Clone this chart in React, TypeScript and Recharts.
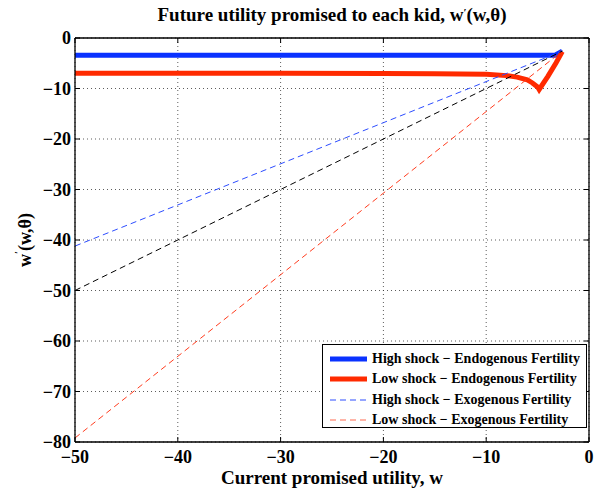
import { ComposedChart, Line, XAxis, YAxis, CartesianGrid, ReferenceLine, Legend } from 'recharts';

// chart geometry (layout only)
const W = 614;
const H = 494;
const PLOT = { left: 75, right: 589, top: 38, bottom: 442 };
const FONT = '"Liberation Serif", "Times New Roman", Times, serif';

// axes
const xTicks = [-50, -40, -30, -20, -10, 0];
const yTicks = [0, -10, -20, -30, -40, -50, -60, -70, -80];

// High shock – endogenous fertility (thick blue)
const highEndoW = [-50, -40, -30, -20, -10, -5, -3.3, -2.6];
const highEndoV = [-3.4, -3.4, -3.4, -3.4, -3.4, -3.4, -3.4, -2.6];

// Low shock – endogenous fertility (thick red)
const lowEndoW = [-50, -40, -30, -20, -15, -10, -8, -7, -6, -5.5, -5, -4.85, -4, -3.2, -2.6];
const lowEndoV = [-7.0, -7.0, -7.0, -7.05, -7.1, -7.2, -7.45, -7.75, -8.3, -8.9, -9.7, -10.2, -7.6, -4.9, -2.7];

// Exogenous fertility (thin dashed)
const highExoW = [-50, -2.6];
const highExoV = [-41.2, -2.6];
const lowExoW = [-50, -2.6];
const lowExoV = [-79.2, -2.6];

// 45-degree reference line
const diagW = [-50, -2.6];
const diagV = [-50, -2.6];

const BLUE = '#0a32ff';
const RED = '#ff2a00';
const BLUE_D = '#2d4dff';
const RED_D = '#ff3c1e';

const legendItems = [
  { label: 'High shock \u2212 Endogenous Fertility', color: BLUE, width: 5, dash: undefined as string | undefined },
  { label: 'Low shock \u2212 Endogenous Fertility', color: RED, width: 5, dash: undefined },
  { label: 'High shock \u2212 Exogenous Fertility', color: BLUE_D, width: 1, dash: '6 4' },
  { label: 'Low shock \u2212 Exogenous Fertility', color: '#ff6a50', width: 1, dash: '6 4' },
];

const toPoints = (ws: number[], vs: number[]) => ws.map((w, i) => ({ w, v: vs[i] }));

const fmt = (v: number) => (v < 0 ? '\u2212' + Math.abs(v) : String(v));

function XTick({ x, payload }: any) {
  return (
    <g>
      <line x1={x} x2={x} y1={PLOT.bottom} y2={PLOT.bottom - 5} stroke="#000" />
      <line x1={x} x2={x} y1={PLOT.top} y2={PLOT.top + 5} stroke="#000" />
      <text x={x} y={PLOT.bottom + 21} textAnchor="middle" fontFamily={FONT} fontWeight="bold" fontSize={18} fill="#000">
        {fmt(payload.value)}
      </text>
    </g>
  );
}

function YTick({ y, payload }: any) {
  return (
    <g>
      <line x1={PLOT.left} x2={PLOT.left + 5} y1={y} y2={y} stroke="#000" />
      <line x1={PLOT.right} x2={PLOT.right - 5} y1={y} y2={y} stroke="#000" />
      <text x={PLOT.left - 4} y={y + 6} textAnchor="end" fontFamily={FONT} fontWeight="bold" fontSize={18} fill="#000">
        {fmt(payload.value)}
      </text>
    </g>
  );
}

function LegendBox() {
  return (
    <div
      style={{
        width: 265,
        height: 84,
        border: '1.5px solid #000',
        background: '#fff',
        boxSizing: 'border-box',
        padding: '4px 0 0 7px',
        fontFamily: FONT,
        fontWeight: 'bold',
        fontSize: 14,
      }}
    >
      {legendItems.map((it) => (
        <div key={it.label} style={{ display: 'flex', alignItems: 'center', height: 20.3 }}>
          <svg width={38} height={8} style={{ marginRight: 4 }}>
            <line x1={0} x2={37} y1={4} y2={4} stroke={it.color} strokeWidth={it.width} strokeDasharray={it.dash} />
          </svg>
          <span style={{ whiteSpace: 'nowrap' }}>{it.label}</span>
        </div>
      ))}
    </div>
  );
}

export default function App() {
  return (
    <div style={{ position: 'absolute', left: 0, top: 0, width: W, height: H, background: '#fff' }}>
      <div
        style={{
          position: 'absolute',
          left: PLOT.left,
          width: PLOT.right - PLOT.left,
          top: 4,
          textAlign: 'center',
          fontFamily: FONT,
          fontWeight: 'bold',
          fontSize: 19,
          lineHeight: '22px',
        }}
      >
        Future utility promised to each kid, w<sup style={{ fontSize: 11, verticalAlign: 'top', position: 'relative', top: -3 }}>{'\u2032'}</sup>(w,θ)
      </div>
      <div
        style={{
          position: 'absolute',
          left: PLOT.left,
          width: PLOT.right - PLOT.left,
          top: 468,
          textAlign: 'center',
          fontFamily: FONT,
          fontWeight: 'bold',
          fontSize: 19,
          lineHeight: '20px',
        }}
      >
        Current promised utility, w
      </div>
      <div
        style={{
          position: 'absolute',
          left: 25,
          top: 240,
          transform: 'translate(-50%, -50%) rotate(-90deg)',
          fontFamily: FONT,
          fontWeight: 'bold',
          fontSize: 18,
          whiteSpace: 'nowrap',
        }}
      >
        w<sup style={{ fontSize: 11, verticalAlign: 'top', position: 'relative', top: -3 }}>{'\u2032'}</sup>(w,θ)
      </div>
      <ComposedChart
        width={W}
        height={H}
        margin={{ top: PLOT.top, right: W - PLOT.right, bottom: 0, left: 0 }}
        style={{ position: 'absolute', left: 0, top: 0 }}
      >
        <CartesianGrid stroke="#333" strokeDasharray="1 3" strokeWidth={0.8} />
        <XAxis
          dataKey="w"
          type="number"
          domain={[-50, 0]}
          ticks={xTicks}
          allowDataOverflow
          height={H - PLOT.bottom}
          tick={<XTick />}
          tickLine={false}
          axisLine={{ stroke: '#000', strokeWidth: 1.3 }}
        />
        <YAxis
          dataKey="v"
          type="number"
          domain={[-80, 0]}
          ticks={yTicks}
          allowDataOverflow
          width={PLOT.left}
          tick={<YTick />}
          tickLine={false}
          axisLine={{ stroke: '#000', strokeWidth: 1.3 }}
        />
        <ReferenceLine y={0} stroke="#000" strokeWidth={1.3} />
        <ReferenceLine x={0} stroke="#000" strokeWidth={1.3} />
        <Line data={toPoints(highEndoW, highEndoV)} dataKey="v" name="High shock - Endogenous Fertility" stroke={BLUE} strokeWidth={5} dot={false} isAnimationActive={false} />
        <Line data={toPoints(lowEndoW, lowEndoV)} dataKey="v" name="Low shock - Endogenous Fertility" stroke={RED} strokeWidth={5} dot={false} isAnimationActive={false} />
        <Line data={toPoints(highExoW, highExoV)} dataKey="v" name="High shock - Exogenous Fertility" stroke={BLUE_D} strokeWidth={1} strokeDasharray="6 4" dot={false} isAnimationActive={false} />
        <Line data={toPoints(lowExoW, lowExoV)} dataKey="v" name="Low shock - Exogenous Fertility" stroke={RED_D} strokeWidth={1} strokeDasharray="6 4" dot={false} isAnimationActive={false} />
        <Line data={toPoints(diagW, diagV)} dataKey="v" name="45 degree" legendType="none" stroke="#000" strokeWidth={1} strokeDasharray="6 4" dot={false} isAnimationActive={false} />
        <Legend
          layout="vertical"
          align="center"
          verticalAlign="middle"
          content={<LegendBox />}
          wrapperStyle={{ position: 'absolute', left: 322, top: 344, width: 'auto', height: 'auto' }}
        />
      </ComposedChart>
    </div>
  );
}
